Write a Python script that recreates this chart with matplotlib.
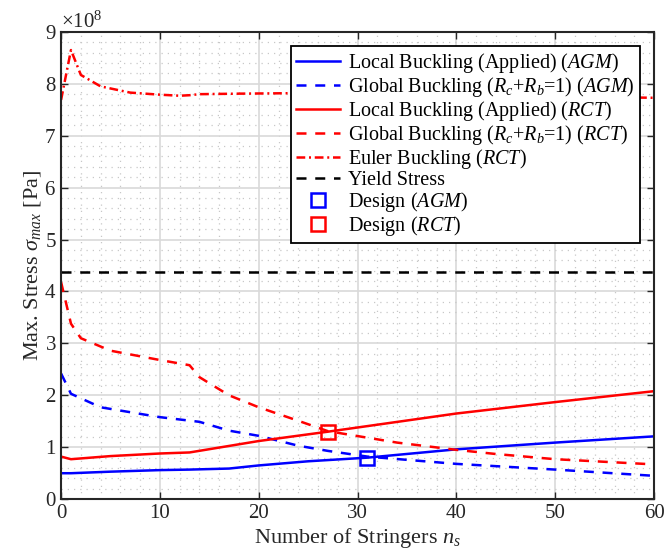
import matplotlib.pyplot as plt
from matplotlib.ticker import MultipleLocator

plt.rcParams['font.family'] = ['Liberation Serif', 'DejaVu Serif']
plt.rcParams['mathtext.fontset'] = 'custom'
plt.rcParams['mathtext.rm'] = 'Liberation Serif'
plt.rcParams['mathtext.it'] = 'Liberation Serif:italic'

# stress values in units of 1e8 Pa
ns_local_agm = [0, 1, 5, 10, 13, 17, 20, 25, 31, 40, 50, 60]
local_agm = [0.50, 0.50, 0.53, 0.56, 0.57, 0.59, 0.65, 0.73, 0.80, 0.96, 1.09, 1.21]

ns_global_agm = [0, 1, 4, 10, 14, 17, 20, 24, 27, 31, 40, 50, 60]
global_agm = [2.42, 2.03, 1.77, 1.58, 1.49, 1.32, 1.22, 1.03, 0.93, 0.82, 0.68, 0.57, 0.45]

ns_local_rct = [0, 1, 5, 10, 13, 20, 27, 40, 50, 60]
local_rct = [0.82, 0.77, 0.83, 0.88, 0.90, 1.12, 1.30, 1.65, 1.87, 2.08]

ns_global_rct = [0, 1, 2, 5, 10, 13, 14, 17, 20, 24, 27, 34, 40, 44, 50, 60]
global_rct = [4.18, 3.38, 3.10, 2.86, 2.68, 2.58, 2.35, 2.00, 1.77, 1.51, 1.31, 1.09, 0.95, 0.87, 0.77, 0.67]

ns_euler = [0, 1, 2, 4, 7, 10, 12, 13, 14, 18, 24, 40, 60]
euler_rct = [7.69, 8.65, 8.17, 7.95, 7.83, 7.79, 7.77, 7.78, 7.80, 7.81, 7.82, 7.79, 7.73]

yield_stress = 4.37
design_agm = (31, 0.80)
design_rct = (27, 1.30)

scale = 1e8
lw = 1.8
dash = (0, (4, 3.5))
dashdot = (0, (3.5, 1.5, 0.8, 1.5))

fig = plt.figure(figsize=(6.64, 5.59), dpi=100)
ax = fig.add_axes([0.092, 0.107, 0.893, 0.836])

ax.plot(ns_local_agm, [v * scale for v in local_agm], color='#0000ff', lw=lw,
        label=r'Local Buckling (Applied) $\mathit{(AGM)}$')
ax.plot(ns_global_agm, [v * scale for v in global_agm], color='#0000ff', lw=lw, ls=dash,
        label=r'Global Buckling ($R_c$+$R_b$=1) $\mathit{(AGM)}$')
ax.plot(ns_local_rct, [v * scale for v in local_rct], color='#ff0000', lw=lw,
        label=r'Local Buckling (Applied) $\mathit{(RCT)}$')
ax.plot(ns_global_rct, [v * scale for v in global_rct], color='#ff0000', lw=lw, ls=dash,
        label=r'Global Buckling ($R_c$+$R_b$=1) $\mathit{(RCT)}$')
ax.plot(ns_euler, [v * scale for v in euler_rct], color='#ff0000', lw=lw, ls=dashdot,
        label=r'Euler Buckling $\mathit{(RCT)}$')
ax.axhline(yield_stress * scale, color='black', lw=lw, ls=dash, label='Yield Stress')
ax.plot(design_agm[0], design_agm[1] * scale, 's', ms=9.5, mfc='none', mec='#0000ff',
        mew=1.8, label=r'Design $\mathit{(AGM)}$')
ax.plot(design_rct[0], design_rct[1] * scale, 's', ms=9.5, mfc='none', mec='#ff0000',
        mew=1.8, label=r'Design $\mathit{(RCT)}$')

ax.set_xlim(0, 60)
ax.set_ylim(0, 9e8)
ax.xaxis.set_major_locator(MultipleLocator(10))
ax.xaxis.set_minor_locator(MultipleLocator(2))
ax.yaxis.set_major_locator(MultipleLocator(1e8))
ax.yaxis.set_minor_locator(MultipleLocator(0.2e8))
ax.ticklabel_format(axis='y', style='sci', scilimits=(8, 8), useMathText=True)
ax.yaxis.get_offset_text().set_fontsize(15)
ax.yaxis.get_offset_text().set_color('#262626')

ax.tick_params(which='major', direction='in', top=True, right=True, length=5,
               width=1, labelsize=15, colors='#262626')
ax.tick_params(which='minor', length=0)
ax.grid(which='major', color='#d9d9d9', lw=1.2)
ax.grid(which='minor', color='#c8c8c8', lw=0.9, ls=(0, (1, 4)))
ax.set_axisbelow(True)
for s in ax.spines.values():
    s.set_linewidth(1.5)
    s.set_color('#262626')

ax.set_xlabel(r'Number of Stringers $n_s$', fontsize=16, color='#262626', labelpad=2)
ax.set_ylabel(r'Max. Stress $\sigma_{max}$ [Pa]', fontsize=16, color='#262626', labelpad=1)

leg = ax.legend(loc='upper right', fontsize=14.5, frameon=True, fancybox=False,
                framealpha=1, edgecolor='black', handlelength=2.2,
                borderaxespad=0.7, labelspacing=0.0, handletextpad=0.4,
                borderpad=0.25)
leg.get_frame().set_linewidth(1.3)

fig.savefig('out.png', dpi=100)
